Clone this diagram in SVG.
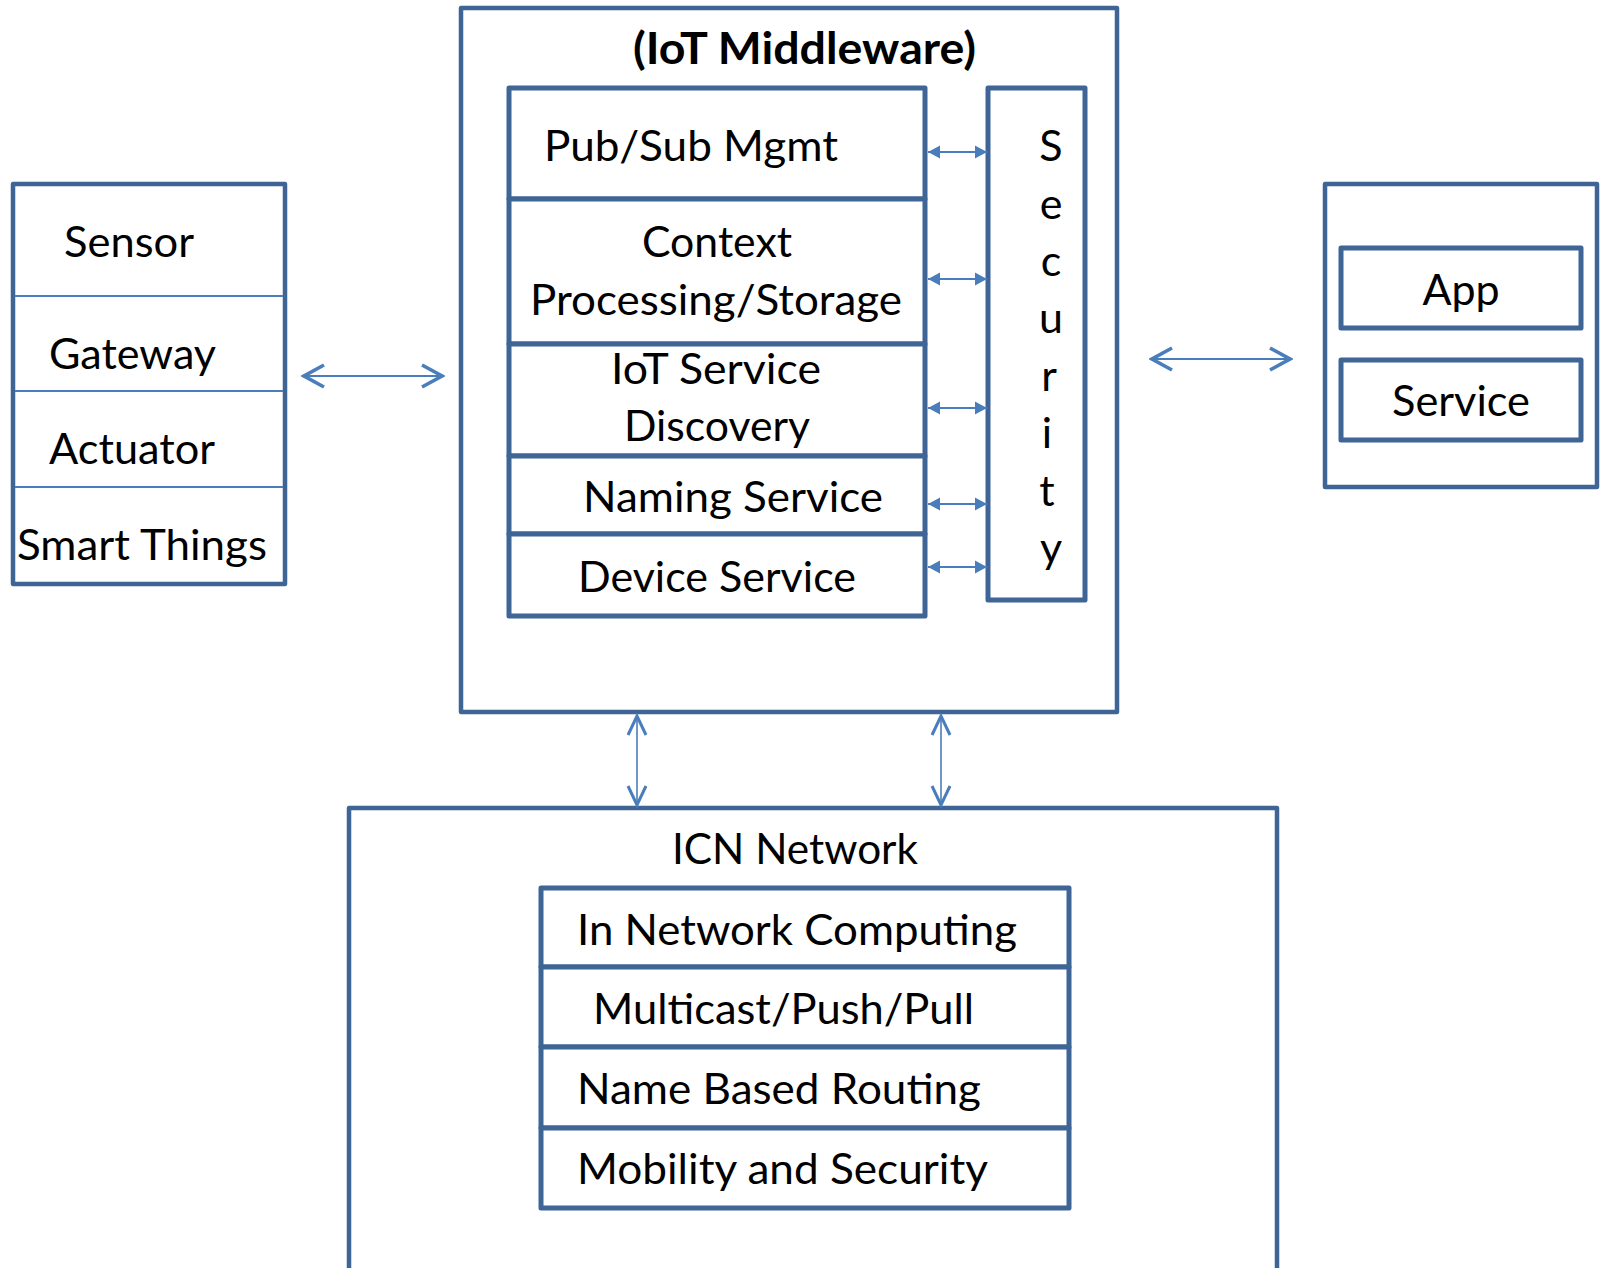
<svg xmlns="http://www.w3.org/2000/svg" width="1602" height="1268" viewBox="0 0 1602 1268">
  <style>
    .box { fill: #ffffff; stroke: #3f6596; stroke-width: 4.5; stroke-linejoin: round; }
    .cell { fill: #ffffff; stroke: #3f6596; stroke-width: 5; stroke-linejoin: round; }
    .div { stroke: #4a7ebb; stroke-width: 2; }
    .lbl { font-family: Lato, "Liberation Sans", sans-serif; font-size: 43px; fill: #000000; }
    .mid { text-anchor: middle; }
    .title { font-family: Lato, "Liberation Sans", sans-serif; font-size: 44px; font-weight: bold; fill: #000000; }
    .link { stroke: #4a7ebb; stroke-width: 2; fill: none; }
    .link-thin { stroke: #4a7ebb; stroke-width: 1.6; fill: none; }
  </style>
  <defs>
    <marker id="chev" markerUnits="userSpaceOnUse" viewBox="0 0 26 28" markerWidth="26" markerHeight="28" refX="23" refY="14" orient="auto-start-reverse">
      <path d="M3,3 L23,14 L3,25" fill="none" stroke="#4a7ebb" stroke-width="3.6"/>
    </marker>
    <marker id="chevThin" markerUnits="userSpaceOnUse" viewBox="0 0 24 24" markerWidth="24" markerHeight="24" refX="21" refY="12" orient="auto-start-reverse">
      <path d="M2,3 L21,12 L2,21" fill="none" stroke="#4a7ebb" stroke-width="3"/>
    </marker>
    <marker id="tri" markerUnits="userSpaceOnUse" viewBox="0 0 14 14" markerWidth="14" markerHeight="14" refX="12" refY="7" orient="auto-start-reverse">
      <path d="M0,0.5 L12,7 L0,13.5 Z" fill="#4a7ebb"/>
    </marker>
  </defs>

  <rect width="1602" height="1268" fill="#ffffff"/>

  <!-- Device side: sensor / gateway / actuator / smart things -->
  <g id="devices">
    <rect class="box" x="13" y="184" width="272" height="400"/>
    <line class="div" x1="15" y1="296" x2="283" y2="296"/>
    <line class="div" x1="15" y1="391" x2="283" y2="391"/>
    <line class="div" x1="15" y1="487" x2="283" y2="487"/>
    <g id="sensor"><text class="lbl" x="64" y="257" textLength="130" lengthAdjust="spacingAndGlyphs">Sensor</text></g>
    <g id="gateway"><text class="lbl" x="49" y="369" textLength="167" lengthAdjust="spacingAndGlyphs">Gateway</text></g>
    <g id="actuator"><text class="lbl" x="49" y="464" textLength="166" lengthAdjust="spacingAndGlyphs">Actuator</text></g>
    <g id="smart-things"><text class="lbl" x="17" y="560" textLength="250" lengthAdjust="spacingAndGlyphs">Smart Things</text></g>
  </g>

  <!-- IoT middleware container -->
  <g id="middleware">
    <rect class="box" x="461" y="8" width="656" height="704"/>
    <text class="title" x="633" y="64" textLength="343" lengthAdjust="spacingAndGlyphs">(IoT Middleware)</text>
  </g>

  <g id="pubsub">
    <rect class="cell" x="509" y="88" width="416" height="111"/>
    <text class="lbl" x="544" y="161" textLength="294" lengthAdjust="spacingAndGlyphs">Pub/Sub Mgmt</text>
  </g>
  <g id="context">
    <rect class="cell" x="509" y="199" width="416" height="145"/>
    <text class="lbl" x="642" y="257" textLength="150" lengthAdjust="spacingAndGlyphs">Context</text>
    <text class="lbl" x="530" y="315" textLength="372" lengthAdjust="spacingAndGlyphs">Processing/Storage</text>
  </g>
  <g id="discovery">
    <rect class="cell" x="509" y="344" width="416" height="112"/>
    <text class="lbl" x="611" y="384" textLength="210" lengthAdjust="spacingAndGlyphs">IoT Service</text>
    <text class="lbl" x="624" y="441" textLength="186" lengthAdjust="spacingAndGlyphs">Discovery</text>
  </g>
  <g id="naming">
    <rect class="cell" x="509" y="456" width="416" height="78"/>
    <text class="lbl" x="583" y="512" textLength="300" lengthAdjust="spacingAndGlyphs">Naming Service</text>
  </g>
  <g id="device-service">
    <rect class="cell" x="509" y="534" width="416" height="82"/>
    <text class="lbl" x="578" y="592" textLength="278" lengthAdjust="spacingAndGlyphs">Device Service</text>
  </g>

  <g id="security">
    <rect class="cell" x="988" y="88" width="97" height="512"/>
    <text class="lbl mid" x="1051" y="161">S</text>
    <text class="lbl mid" x="1051" y="219">e</text>
    <text class="lbl mid" x="1051" y="276">c</text>
    <text class="lbl mid" x="1051" y="333">u</text>
    <text class="lbl mid" x="1049" y="391">r</text>
    <text class="lbl mid" x="1047" y="448">i</text>
    <text class="lbl mid" x="1047" y="506">t</text>
    <text class="lbl mid" x="1051" y="563">y</text>
  </g>

  <!-- Application side -->
  <g id="application">
    <rect class="box" x="1325" y="184" width="272" height="303"/>
    <g id="app">
      <rect class="cell" x="1341" y="248" width="240" height="80"/>
      <text class="lbl mid" x="1461" y="305">App</text>
    </g>
    <g id="service">
      <rect class="cell" x="1341" y="360" width="240" height="80"/>
      <text class="lbl" x="1392" y="416" textLength="138" lengthAdjust="spacingAndGlyphs">Service</text>
    </g>
  </g>

  <!-- ICN network container -->
  <g id="icn">
    <rect class="box" x="349" y="808" width="928" height="500"/>
    <text class="lbl" x="672" y="864" textLength="246" lengthAdjust="spacingAndGlyphs">ICN Network</text>
  </g>
  <g id="in-network">
    <rect class="cell" x="541" y="888" width="528" height="79"/>
    <text class="lbl" x="577" y="945" textLength="440" lengthAdjust="spacingAndGlyphs">In Network Computing</text>
  </g>
  <g id="multicast">
    <rect class="cell" x="541" y="967" width="528" height="80"/>
    <text class="lbl" x="593" y="1024" textLength="381" lengthAdjust="spacingAndGlyphs">Multicast/Push/Pull</text>
  </g>
  <g id="routing">
    <rect class="cell" x="541" y="1047" width="528" height="81"/>
    <text class="lbl" x="577" y="1104" textLength="404" lengthAdjust="spacingAndGlyphs">Name Based Routing</text>
  </g>
  <g id="mobility">
    <rect class="cell" x="541" y="1128" width="528" height="80"/>
    <text class="lbl" x="577" y="1184" textLength="411" lengthAdjust="spacingAndGlyphs">Mobility and Security</text>
  </g>

  <!-- Connectors -->
  <g id="connectors">
    <line class="link" x1="304" y1="376" x2="442" y2="376" marker-start="url(#chev)" marker-end="url(#chev)"/>
    <line class="link" x1="1152" y1="359" x2="1290" y2="359" marker-start="url(#chev)" marker-end="url(#chev)"/>
    <line class="link" x1="928" y1="152" x2="987" y2="152" marker-start="url(#tri)" marker-end="url(#tri)"/>
    <line class="link" x1="928" y1="279" x2="987" y2="279" marker-start="url(#tri)" marker-end="url(#tri)"/>
    <line class="link" x1="928" y1="408" x2="987" y2="408" marker-start="url(#tri)" marker-end="url(#tri)"/>
    <line class="link" x1="928" y1="504" x2="987" y2="504" marker-start="url(#tri)" marker-end="url(#tri)"/>
    <line class="link" x1="928" y1="567" x2="987" y2="567" marker-start="url(#tri)" marker-end="url(#tri)"/>
    <line class="link-thin" x1="637" y1="716" x2="637" y2="805" marker-start="url(#chevThin)" marker-end="url(#chevThin)"/>
    <line class="link-thin" x1="941" y1="716" x2="941" y2="805" marker-start="url(#chevThin)" marker-end="url(#chevThin)"/>
  </g>
</svg>
